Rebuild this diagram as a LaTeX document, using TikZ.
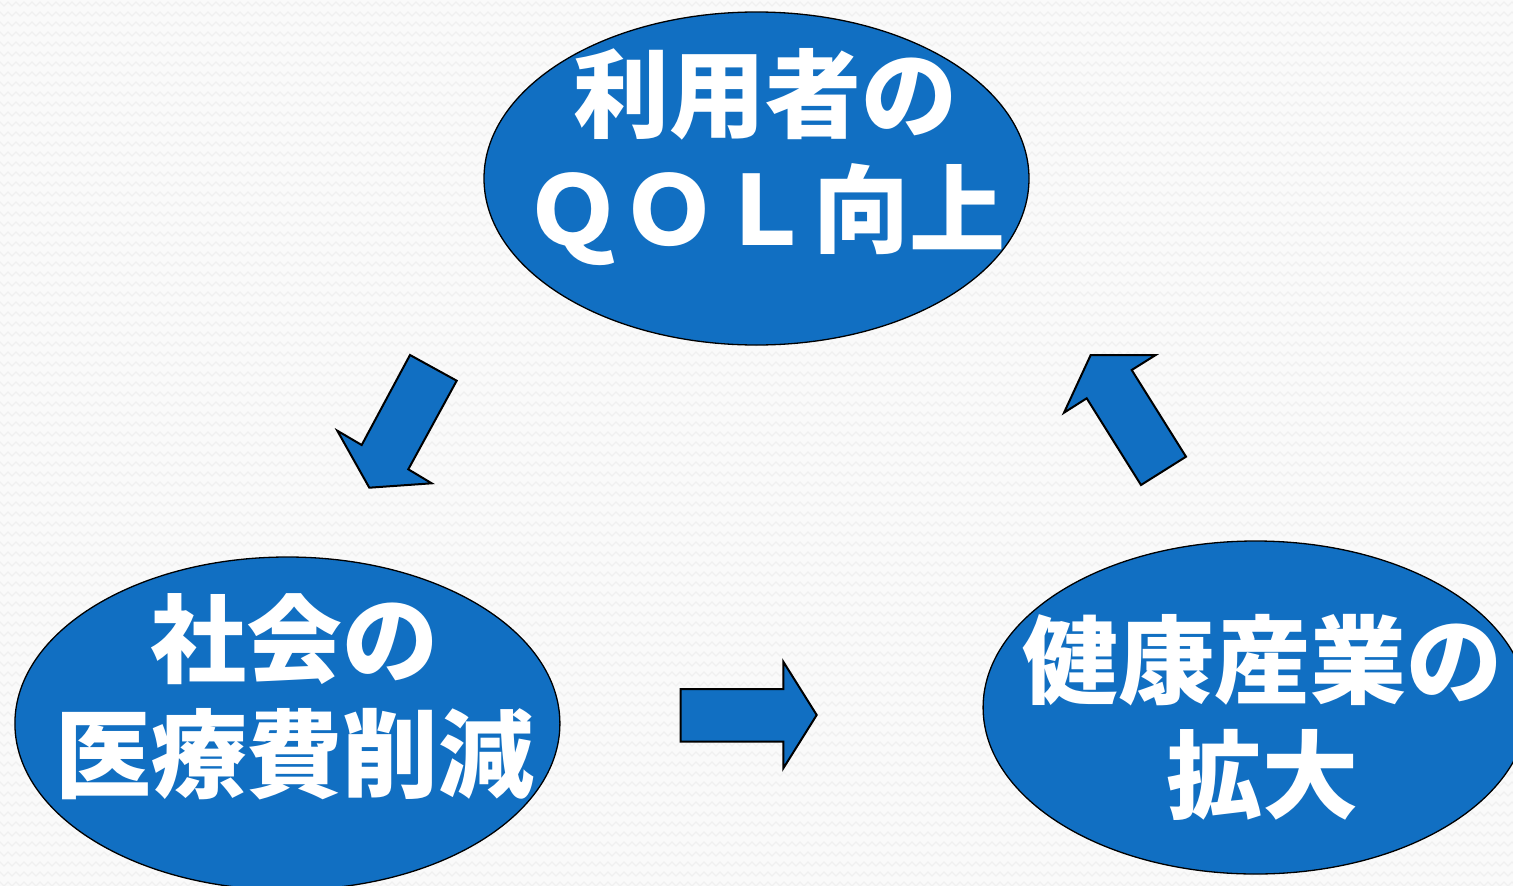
\documentclass[tikz,border=0pt]{standalone}
\usepackage{fontspec}
\newfontfamily\jp{Noto Sans CJK JP}
\usetikzlibrary{shapes.geometric,decorations.pathmorphing}
\definecolor{bluefill}{RGB}{17,111,194}
\definecolor{bgcol}{RGB}{250,250,250}
\definecolor{zigcol}{RGB}{240,240,240}
\tikzset{
  bubble/.style={ellipse, draw=black, line width=1.3pt, fill=bluefill,
    minimum width=545pt, minimum height=333pt, inner sep=0pt},
  bubbletext/.style={text=white, font=\jp\bfseries\fontsize{96}{115}\selectfont,
    align=center, inner sep=0pt},
  blockarrow/.style={draw=black, line width=2pt, fill=bluefill, line join=miter},
  zigline/.style={draw=zigcol, line width=1.2pt,
    decorate, decoration={zigzag, segment length=8pt, amplitude=2pt}},
}
\begin{document}
\begin{tikzpicture}[x=1pt,y=-1pt]
\clip (0,0) rectangle (1513,886);
\fill[bgcol] (0,0) rectangle (1513,886);
\foreach \yy in {4,14,...,894} {
  \path[zigline] (-10,\yy) -- (1530,\yy);
}
% ellipses
\node[bubble] (qol) at (756.5,178.5) {};
\node[bubble] (cost) at (287.4,723.5) {};
\node[bubble] (ind) at (1255.6,707.5) {};
% texts
\node[bubbletext] (qoltext) at (765,157.5) {利用者の\\ＱＯＬ向上};
\node[bubbletext] (costtext) at (295,696.5) {社会の\\医療費削減};
\node[bubbletext] (indtext) at (1262,717.5) {健康産業の\\拡大};
% block arrows
\draw[blockarrow] (410,355) -- (456.7,380.7) -- (408.3,469.3) -- (431.7,483.3)
  -- (369.3,487.7) -- (337.3,430.7) -- (361.7,445) -- cycle;
\draw[blockarrow] (680.7,689) -- (783.3,689) -- (783.3,661.7) -- (816.7,715)
  -- (783.3,768.3) -- (783.3,741.7) -- (680.7,741.7) -- cycle;
\draw[blockarrow] (1090.7,355) -- (1155.7,355) -- (1131.7,370) -- (1186,456.7)
  -- (1141,485) -- (1086.7,398.3) -- (1064,412.7) -- cycle;
\end{tikzpicture}
\end{document}
